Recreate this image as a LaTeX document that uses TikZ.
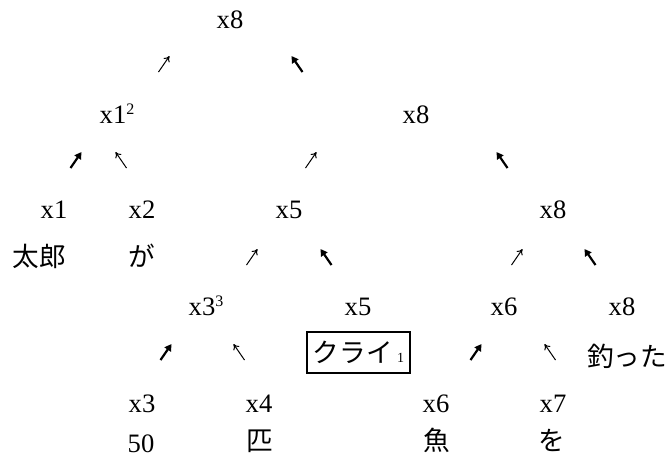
\documentclass[tikz,border=0pt]{standalone}
\usepackage{fontspec}
\setmainfont{Liberation Serif}
\newfontfamily\jp{Noto Sans CJK JP}
\usetikzlibrary{arrows.meta}
\newcommand\sups[1]{\raisebox{4.2pt}{\fontsize{8}{9}\selectfont #1}}
\tikzset{
  word/.style={anchor=base,inner sep=0pt,font=\fontsize{13.3}{16}\selectfont},
  jword/.style={anchor=base,inner sep=0pt,font=\fontsize{13.3}{16}\selectfont\jp},
  lite/.style={-{To[length=2.8pt,width=3.6pt]},line width=0.5pt},
  heavy/.style={-{Triangle[length=3.4pt,width=3.8pt]},line width=1.1pt},
}
\begin{document}
\begin{tikzpicture}[x=0.5pt,y=-0.5pt]
\useasboundingbox (0,0) rectangle (672,467);
% words and labels
\node[word] (top) at (230,28) {x8};
\node[word] (x1s) at (117,123) {x1\sups{2}};
\node[word] (x8b) at (416,123) {x8};
\node[word] (x1) at (54,218) {x1};
\node[word] (x2) at (142,218) {x2};
\node[word] (x5a) at (289,218) {x5};
\node[word] (x8c) at (553,218) {x8};
\node[jword] (taro) at (39,266) {太郎};
\node[jword] (ga) at (142,266) {が};
\node[word] (x3s) at (206,315) {x3\sups{3}};
\node[word] (x5b) at (358,315) {x5};
\node[word] (x6a) at (504,315) {x6};
\node[word] (x8d) at (622,315) {x8};
\node[draw,line width=1pt,minimum width=51.5pt,minimum height=20.5pt,inner sep=0pt,
  font=\fontsize{13.3}{16}\selectfont\jp] (kurai) at (358.5,352.5)
  {クライ\,{\fontsize{7}{8}\selectfont\rmfamily 1}};
\node[jword] (tsutta) at (627,366) {釣った};
\node[word] (x3) at (142,412) {x3};
\node[word] (x4) at (259,412) {x4};
\node[word] (x6b) at (436,412) {x6};
\node[word] (x7) at (553,412) {x7};
\node[word] (n50) at (141,452) {50};
\node[jword] (hiki) at (260,450) {匹};
\node[jword] (sakana) at (437,450) {魚};
\node[jword] (wo) at (552,450) {を};
% arrows
\draw[lite] (164,64) +(-5.5,8)--+(5.5,-8);
\draw[heavy] (297,64) +(5.5,8)--+(-5.5,-8);
\draw[heavy] (76,160) +(-5.5,8)--+(5.5,-8);
\draw[lite] (121,160) +(5.5,8)--+(-5.5,-8);
\draw[lite] (311,160) +(-5.5,8)--+(5.5,-8);
\draw[heavy] (502,160) +(5.5,8)--+(-5.5,-8);
\draw[lite] (252,257) +(-5.5,8)--+(5.5,-8);
\draw[heavy] (326,257) +(5.5,8)--+(-5.5,-8);
\draw[lite] (517,257) +(-5.5,8)--+(5.5,-8);
\draw[heavy] (590,257) +(5.5,8)--+(-5.5,-8);
\draw[heavy] (166,352) +(-5.5,8)--+(5.5,-8);
\draw[lite] (239,352) +(5.5,8)--+(-5.5,-8);
\draw[heavy] (476,352) +(-5.5,8)--+(5.5,-8);
\draw[lite] (550,352) +(5.5,8)--+(-5.5,-8);
\end{tikzpicture}
\end{document}
